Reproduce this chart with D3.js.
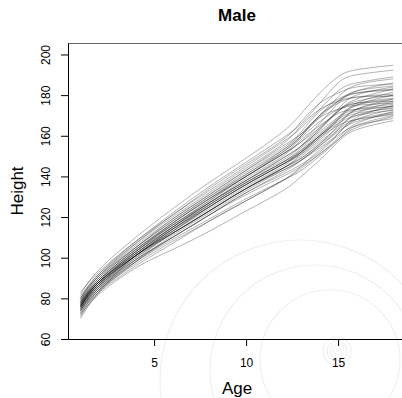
<!DOCTYPE html>
<html>
<head>
<meta charset="utf-8">
<script src="https://cdn.jsdelivr.net/npm/d3@7"></script>
<style>
  body { margin: 0; background: #fff; }
  svg { display: block; font-family: "Liberation Sans", Arial, sans-serif; }
</style>
</head>
<body>
<svg id="chart" width="402" height="398"></svg>
<script>
const ages = [1, 2, 4, 6, 8, 10, 12, 13, 14, 15, 16, 18];

// heights (cm), one row per boy
const boys = [
  [82, 94, 110, 124, 137, 149, 162, 171, 181, 189, 192.5, 194.7],
  [80, 92, 108, 122, 135, 147, 159, 166, 176, 186, 190, 192.3],
  [79, 91, 107, 121, 133, 145, 157, 164, 173, 182, 186, 189],
  [78, 90, 105, 119, 131, 143, 155, 161, 170, 179, 185, 188],
  [83, 93, 108, 121, 134, 146, 158, 167, 176, 181, 184, 185.5],
  [76, 88, 103, 116, 128, 140, 151, 157, 166, 176, 182, 186],
  [79, 90, 105, 118, 130, 142, 153, 160, 169, 177, 182, 184.5],
  [75, 87, 102, 115, 127, 138, 149, 155, 163, 173, 180, 184],
  [77, 89, 104, 117, 129, 140, 152, 160, 170, 177, 181, 183],
  [80, 91, 106, 119, 131, 143, 154, 162, 172, 178, 181, 182.5],
  [76, 88, 103, 117, 129, 140, 151, 157, 164, 172, 178, 183],
  [74, 86, 101, 114, 126, 137, 147, 152, 159, 168, 176, 181.5],
  [78, 89, 104, 117, 129, 141, 152, 160, 170, 176, 179, 180.5],
  [77, 88, 102, 115, 127, 138, 149, 155, 163, 172, 177, 180],
  [75, 86, 101, 114, 126, 137, 147, 153, 160, 168, 175, 180],
  [81, 92, 107, 120, 132, 144, 156, 165, 173, 177, 179, 179.5],
  [76, 87, 101, 114, 125, 136, 146, 152, 160, 169, 175, 178],
  [77, 88, 103, 116, 127, 138, 148, 155, 164, 172, 176, 178.5],
  [72, 84, 99, 112, 123, 134, 144, 149, 156, 165, 173, 178],
  [78, 89, 104, 116, 128, 140, 151, 159, 167, 173, 176, 177],
  [76, 87, 101, 113, 125, 136, 146, 151, 158, 166, 173, 177],
  [74, 85, 100, 112, 123, 134, 143, 148, 155, 163, 171, 176.5],
  [80, 91, 105, 118, 130, 141, 153, 161, 169, 173, 175, 176],
  [77, 88, 102, 115, 126, 137, 147, 154, 162, 169, 173, 175.5],
  [73, 84, 98, 110, 121, 132, 141, 146, 152, 161, 169, 175],
  [76, 87, 101, 113, 125, 136, 146, 153, 161, 168, 172, 174.5],
  [79, 89, 103, 115, 127, 139, 150, 158, 165, 171, 173, 174.5],
  [75, 86, 100, 112, 123, 134, 144, 150, 157, 164, 170, 174],
  [77, 88, 102, 114, 125, 136, 146, 152, 160, 167, 171, 173.5],
  [71, 83, 98, 111, 122, 133, 143, 148, 154, 161, 168, 173],
  [76, 87, 101, 113, 124, 135, 145, 152, 160, 166, 170, 172.5],
  [74, 85, 99, 110, 121, 131, 140, 145, 151, 159, 166, 172],
  [70, 83, 101, 112, 123, 134, 144, 149, 156, 163, 168, 171.5],
  [76, 86, 99, 110, 121, 132, 142, 148, 155, 162, 167, 171],
  [78, 88, 101, 112, 123, 134, 144, 151, 159, 165, 168, 170.5],
  [75, 85, 98, 109, 119, 129, 138, 143, 150, 158, 165, 170],
  [73, 83, 96, 107, 118, 128, 138, 144, 151, 158, 164, 169.5],
  [74, 84, 97, 108, 118, 128, 138, 145, 153, 160, 165, 168.5],
  [72, 82, 95, 104, 113, 123, 133, 140, 148, 157, 163, 167.5]
];

const xTicks = [5, 10, 15];
const yTicks = [60, 80, 100, 120, 140, 160, 180, 200];

const svg = d3.select(`#chart`);

const x = d3.scaleLinear().domain([0.32, 18.68]).range([68, 405.8]);
const y = d3.scaleLinear().domain([60, 205.5]).range([339, 43.3]);

// faint watermark in the background
const wm = svg.append(`g`)
  .attr(`fill`, `none`)
  .attr(`stroke`, `#f0f0f0`)
  .attr(`stroke-width`, 1.2);
[[300, 380, 140], [315, 370, 105], [330, 360, 70]].forEach(([cx, cy, r]) => {
  wm.append(`circle`).attr(`cx`, cx).attr(`cy`, cy).attr(`r`, r);
});
[14, 10, 7, 4].forEach(r => {
  wm.append(`circle`).attr(`cx`, 337).attr(`cy`, 351).attr(`r`, r);
});

// growth curves
const line = d3.line()
  .x((d, i) => x(ages[i]))
  .y(d => y(d))
  .curve(d3.curveNatural);

svg.append(`g`)
  .selectAll(`path`)
  .data(boys)
  .enter().append(`path`)
  .attr(`d`, line)
  .attr(`fill`, `none`)
  .attr(`stroke`, `#000`)
  .attr(`stroke-opacity`, 0.3)
  .attr(`stroke-width`, 1);

// frame
svg.append(`line`)
  .attr(`x1`, 68).attr(`x2`, 402)
  .attr(`y1`, 43.5).attr(`y2`, 43.5)
  .attr(`stroke`, `#666`);

const xAxis = svg.append(`g`)
  .attr(`transform`, `translate(0,339)`)
  .call(d3.axisBottom(x).tickValues(xTicks).tickSize(7).tickPadding(12).tickSizeOuter(0));
xAxis.select(`.domain`).attr(`d`, `M68,0.5H402`);

const yAxis = svg.append(`g`)
  .attr(`transform`, `translate(68,0)`)
  .call(d3.axisLeft(y).tickValues(yTicks).tickSize(7).tickSizeOuter(0));
yAxis.select(`.domain`).attr(`d`, `M0.5,43.3V339.5`);

svg.selectAll(`.tick text`)
  .attr(`font-size`, 12)
  .attr(`fill`, `#000`)
  .attr(`font-family`, `"Liberation Sans", Arial, sans-serif`);
xAxis.selectAll(`.tick text`).attr(`dy`, `0.71em`);
yAxis.selectAll(`.tick text`)
  .attr(`x`, 0)
  .attr(`y`, 0)
  .attr(`dy`, 0)
  .attr(`text-anchor`, `middle`)
  .attr(`transform`, `translate(-18.5,0) rotate(-90)`);

// titles
svg.append(`text`)
  .attr(`x`, 237).attr(`y`, 21)
  .attr(`text-anchor`, `middle`)
  .attr(`font-size`, 17)
  .attr(`font-weight`, `bold`)
  .text(`Male`);

svg.append(`text`)
  .attr(`x`, 237).attr(`y`, 394)
  .attr(`text-anchor`, `middle`)
  .attr(`font-size`, 17)
  .text(`Age`);

svg.append(`text`)
  .attr(`transform`, `translate(23,191) rotate(-90)`)
  .attr(`text-anchor`, `middle`)
  .attr(`font-size`, 17)
  .text(`Height`);
</script>
</body>
</html>
